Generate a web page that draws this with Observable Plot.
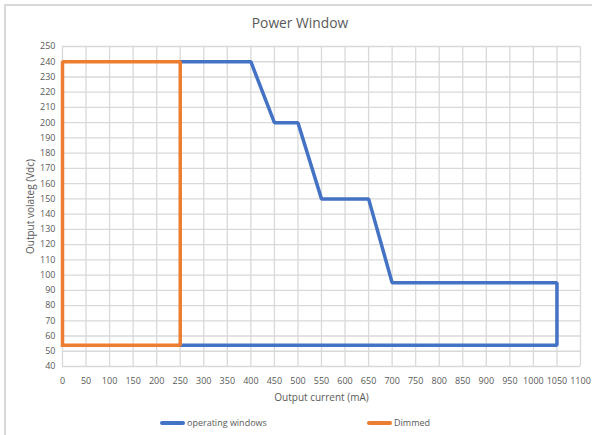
<!DOCTYPE html>
<html>
<head>
<meta charset="utf-8">
<script src="https://cdn.jsdelivr.net/npm/d3@7"></script>
<script src="https://cdn.jsdelivr.net/npm/@observablehq/plot@0.6"></script>
<style>
  html, body { margin: 0; padding: 0; background: #fff; }
  #wrap { position: relative; width: 592px; height: 435px; overflow: hidden; background: #fff; font-family: "Open Sans", sans-serif; color: #595959; }
  #frame { position: absolute; left: 4px; top: 4px; width: 620px; height: 460px; border: 2px solid #d9d9d9; box-sizing: border-box; pointer-events: none; }
  #title { height: 36px; line-height: 1; font-size: 13.8px; text-align: center; padding-left: 8px; box-sizing: border-box; padding-top: 16px; }
  #chart svg { display: block; }
  #legend { position: relative; height: 27px; font-size: 9px; }
  .item { position: absolute; top: 8px; display: flex; align-items: center; white-space: nowrap; }
  .sw { width: 25px; height: 4px; border-radius: 2px; margin-right: 2px; }
</style>
</head>
<body>
<div id="wrap">
  <div id="frame"></div>
  <div id="title">Power Window</div>
  <div id="chart"></div>
  <div id="legend"></div>
</div>
<script>
// Data
const seriesNames = ["operating windows", "Dimmed"];
const seriesColors = ["#4472C4", "#ED7D31"];
const operatingCurrent = [250, 400, 450, 500, 550, 650, 700, 1050, 1050, 250];
const operatingVoltage = [240, 240, 200, 200, 150, 150, 95, 95, 54, 54];
const dimmedCurrent = [0, 0, 250, 250, 0];
const dimmedVoltage = [54, 240, 240, 54, 54];
const xTicks = d3.range(0, 1101, 50);
const yTicks = d3.range(40, 251, 10);

const operating = operatingCurrent.map((x, i) => ({x, y: operatingVoltage[i]}));
const dimmed = dimmedCurrent.map((x, i) => ({x, y: dimmedVoltage[i]}));

const grid = "#d9d9d9";
const fmt = d => String(d);
const plot = Plot.plot({
  width: 592,
  height: 372,
  marginLeft: 62,
  marginRight: 12,
  marginTop: 10,
  marginBottom: 42,
  style: { fontFamily: "Open Sans, sans-serif", fontSize: "9px", color: "#595959", background: "transparent" },
  x: { domain: [0, 1100] },
  y: { domain: [40, 250] },
  marks: [
    Plot.gridX(xTicks, { stroke: grid, strokeOpacity: 1, strokeWidth: 1.3 }),
    Plot.gridY(yTicks, { stroke: grid, strokeOpacity: 1, strokeWidth: 1.3 }),
    Plot.axisX(xTicks, { tickSize: 0, tickPadding: 11, label: null, fontSize: 9, tickFormat: fmt }),
    Plot.axisY(yTicks, { tickSize: 0, tickPadding: 7, label: null, fontSize: 9, tickFormat: fmt }),
    Plot.axisX({ ticks: [], label: "Output current (mA)", labelAnchor: "center", labelOffset: 34, labelArrow: "none", fontSize: 10 }),
    Plot.axisY({ ticks: [], label: "Output volateg (Vdc)", labelAnchor: "center", labelOffset: 36, labelArrow: "none", fontSize: 10 }),
    Plot.line(operating, { x: "x", y: "y", stroke: seriesColors[0], strokeWidth: 3.5, strokeLinejoin: "miter", strokeLinecap: "square" }),
    Plot.line(dimmed, { x: "x", y: "y", stroke: seriesColors[1], strokeWidth: 3.5, strokeLinejoin: "miter", strokeLinecap: "square" })
  ]
});
document.getElementById("chart").appendChild(plot);

const legend = document.getElementById("legend");
const lefts = [160, 367];
seriesNames.forEach((name, i) => {
  const it = document.createElement("div");
  it.className = "item";
  it.style.left = lefts[i] + "px";
  it.innerHTML = `<div class="sw" style="background:${seriesColors[i]}"></div><span>${name}</span>`;
  legend.appendChild(it);
});
</script>
</body>
</html>
